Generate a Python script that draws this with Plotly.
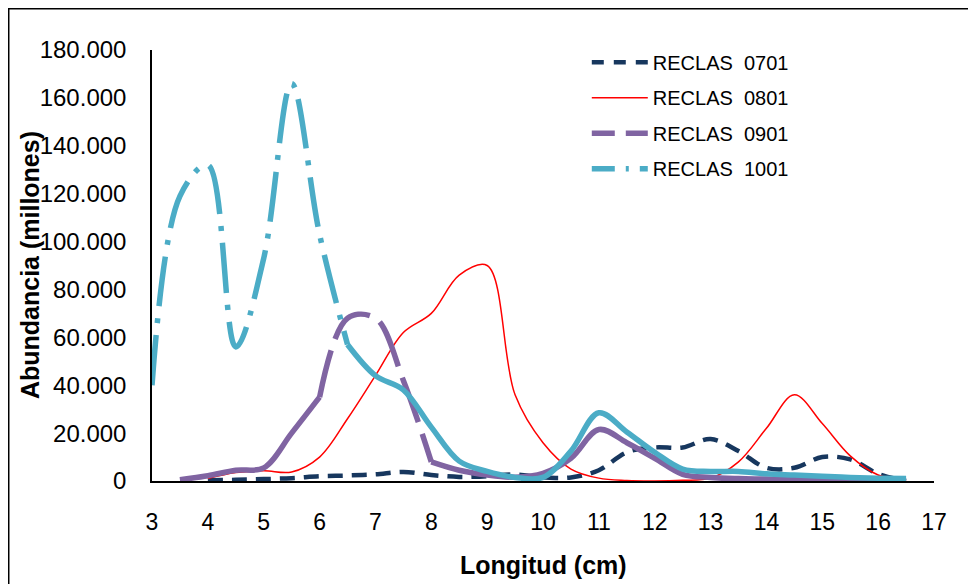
import plotly.graph_objects as go

# ---------------- data ----------------
x_ticks = [3, 4, 5, 6, 7, 8, 9, 10, 11, 12, 13, 14, 15, 16, 17]
y_ticks = [0, 20, 40, 60, 80, 100, 120, 140, 160, 180]
y_tick_labels = ["0", "20.000", "40.000", "60.000", "80.000", "100.000",
                 "120.000", "140.000", "160.000", "180.000"]

series_names = ["RECLAS\u00a0\u00a00701", "RECLAS\u00a0\u00a00801",
                "RECLAS\u00a0\u00a00901", "RECLAS\u00a0\u00a01001"]

len_0701 = [4.0, 4.5, 5.0, 5.5, 6.0, 6.5, 7.0, 7.5, 8.0, 8.5, 9.0, 9.5, 10.0,
            10.5, 11.0, 11.5, 12.0, 12.5, 13.0, 13.5, 14.0, 14.5, 15.0, 15.5, 16.0, 16.5]
abu_0701 = [0.3, 0.5, 0.8, 1.2, 2.0, 2.3, 2.8, 3.8, 2.5, 1.7, 2.0, 2.7, 1.5,
            1.5, 4.5, 12.0, 14.0, 14.0, 17.5, 12.5, 5.5, 5.5, 10.0, 9.0, 3.0, 0.0]

len_0801 = [4.0, 4.5, 5.0, 5.5, 6.0, 6.5, 7.0, 7.5, 8.0, 8.5, 9.0, 9.5, 10.0,
            10.5, 11.0, 11.5, 12.0, 12.5, 13.0, 13.5, 14.0, 14.5, 15.0, 15.5, 16.0, 16.5]
abu_0801 = [1.0, 3.5, 4.3, 3.8, 10.0, 26.0, 44.0, 62.0, 70.0, 86.0, 90.0, 36.0, 16.0,
            5.0, 1.2, 0.2, 0.0, 0.3, 1.2, 8.0, 22.0, 36.0, 24.0, 10.5, 2.5, 0.0]

len_0901 = [3.5, 4.0, 4.5, 5.0, 5.5, 6.0, 6.5, 7.0, 7.5, 8.0, 8.5, 9.0, 9.5, 10.0,
            10.5, 11.0, 11.5, 12.0, 12.5, 13.0, 13.5, 14.0, 14.5, 15.0, 15.5, 16.0, 16.5]
abu_0901 = [0.5, 2.2, 4.5, 5.5, 20.0, 35.0, 68.0, 68.0, 42.0, 8.0, 4.5, 2.5, 1.6, 3.2,
            9.5, 21.5, 16.0, 9.5, 2.8, 1.5, 1.0, 0.8, 0.5, 0.3, 0.2, 0.1, 0.0]

len_1001 = [3.0, 3.5, 4.0, 4.5, 5.0, 5.5, 6.0, 6.5, 7.0, 7.5, 8.0, 8.5, 9.0, 9.5,
            10.0, 10.5, 11.0, 11.5, 12.0, 12.5, 13.0, 13.5, 14.0, 14.5, 15.0, 15.5, 16.0, 16.5]
abu_1001 = [40.0, 119.0, 132.0, 56.0, 93.0, 166.0, 103.0, 57.0, 44.0, 38.0, 22.5, 8.3, 4.0, 1.5,
            1.5, 12.5, 28.5, 20.5, 12.0, 5.0, 4.0, 4.0, 3.0, 2.5, 2.0, 1.5, 1.2, 1.0]

# ---------------- styles ----------------
C_0701 = "#17375E"
C_0801 = "#FF0000"
C_0901 = "#8064A2"
C_1001 = "#4BACC6"
FONT = "Liberation Sans, Arial, sans-serif"

fig = go.Figure()


def add(x, y, color, width, dash, group):
    fig.add_trace(go.Scatter(x=x, y=y, mode="lines", line_shape="spline",
                             line=dict(color=color, width=width, dash=dash),
                             legendgroup=group, showlegend=False,
                             hoverinfo="x+y"))


# RECLAS 0701 (drawn first, bottom)
add(len_0701, abu_0701, C_0701, 4.5, "15px,9px", "g1")
# RECLAS 0801
add(len_0801, abu_0801, C_0801, 1.5, "solid", "g2")
# RECLAS 0901 (dash pattern restarts per segment in the original -> mostly solid)
add(len_0901[:6], abu_0901[:6], C_0901, 5.5, "solid", "g3")
add(len_0901[5:10], abu_0901[5:10], C_0901, 5.5, "48px,12px", "g3")
add(len_0901[9:], abu_0901[9:], C_0901, 5.5, "solid", "g3")
# RECLAS 1001
add(len_1001[:8], abu_1001[:8], C_1001, 5.5, "50px,12px,5px,12px", "g4")
add(len_1001[7:], abu_1001[7:], C_1001, 5.5, "solid", "g4")

# legend entries
legend_styles = [
    (C_0701, 4.5, "12px,10px", "g1"),
    (C_0801, 1.5, "solid", "g2"),
    (C_0901, 5.5, "23px,11px", "g3"),
    (C_1001, 5.5, "23px,11px,3px,11px", "g4"),
]
for name, (color, width, dash, group) in zip(series_names, legend_styles):
    fig.add_trace(go.Scatter(x=[None], y=[None], mode="lines", name=name,
                             line=dict(color=color, width=width, dash=dash),
                             legendgroup=group, showlegend=True))

fig.update_layout(
    width=976, height=584,
    paper_bgcolor="white", plot_bgcolor="white",
    margin=dict(l=144, r=50, t=42, b=111),
    font=dict(family=FONT, color="black"),
    showlegend=True,
    legend=dict(x=0.556, y=1.017, xanchor="left", yanchor="top",
                bgcolor="rgba(0,0,0,0)", font=dict(size=20, family=FONT, color="black"),
                itemwidth=56, tracegroupgap=6.5, traceorder="grouped"),
    xaxis=dict(range=[3, 17], tickvals=x_ticks, ticktext=[str(v) for v in x_ticks],
               showline=True, linecolor="black", linewidth=1.5, mirror=False,
               showgrid=False, zeroline=False, ticks="",
               tickfont=dict(size=23, family=FONT, color="black"),
               ticklabelstandoff=20),
    yaxis=dict(range=[0, 180], tickvals=y_ticks, ticktext=y_tick_labels,
               showline=True, linecolor="black", linewidth=1.5,
               showgrid=False, zeroline=False, ticks="",
               tickfont=dict(size=24, family=FONT, color="black"),
               ticklabelstandoff=19),
    annotations=[
        dict(text="<b>Longitud (cm)</b>", xref="paper", yref="paper",
             x=0.5, y=-0.195, xanchor="center", yanchor="middle", showarrow=False,
             font=dict(size=25, family=FONT, color="black")),
        dict(text="<b>Abundancia (millones)</b>", xref="paper", yref="paper",
             x=-0.156, y=0.501, xanchor="center", yanchor="middle", showarrow=False,
             textangle=-90, font=dict(size=25, family=FONT, color="black")),
    ],
    shapes=[
        dict(type="rect", xref="paper", yref="paper",
             x0=-0.1832, x1=1.1, y0=-0.3, y1=1.0957,
             line=dict(color="black", width=1.5), fillcolor="rgba(0,0,0,0)", layer="below"),
    ],
)

fig.write_html("out.html")
